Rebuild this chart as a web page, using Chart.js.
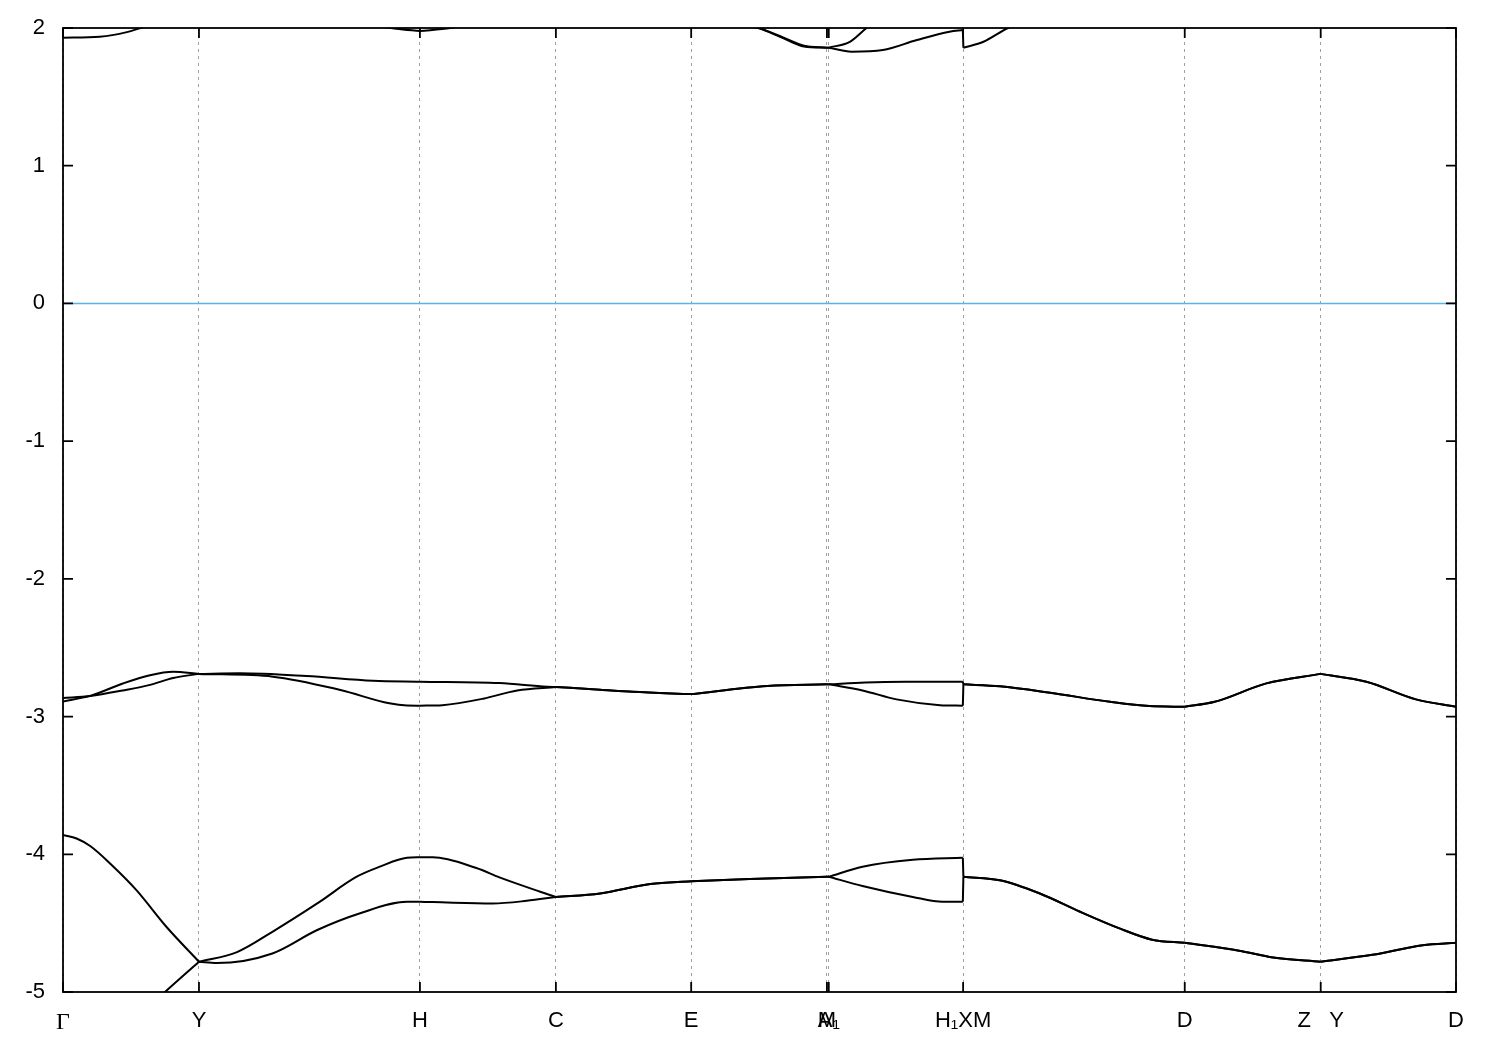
<!DOCTYPE html>
<html>
<head>
<meta charset="utf-8">
<script src="https://cdn.jsdelivr.net/npm/chart.js@4"></script>
<style>
  body { margin: 0; background: #fff; }
</style>
</head>
<body>
<canvas id="chart" width="1500" height="1050"></canvas>
<script>
// high symmetry points along the k-path
const kPos = [0, 1, 2.625, 3.625, 4.62, 5.618, 5.632, 6.62, 8.25, 9.25, 10.245];
const kLabels = ['Γ', 'Y', 'H', 'C', 'E', 'M', 'A₁', 'H₁XM', 'D', 'Z   Y', 'D'];
// where a band may have a kink (path corners, and the H1 | X jump)
const kinkX = [1, 2.625, 3.625, 4.62, 5.618, 5.632, 6.618, 6.622, 8.25, 9.25];

const yTicks = [-5, -4, -3, -2, -1, 0, 1, 2];

// bands, [k, E] pairs
const bandC1 = [[0, 1.93], [0.27, 1.937], [0.47, 1.97], [0.57, 2.0], [0.8, 2.07], [1.0, 2.1], [1.6, 2.09],
  [2.2, 2.03], [2.45, 1.995], [2.625, 1.978], [2.85, 2.0], [3.1, 2.05], [3.625, 2.12], [4.2, 2.15],
  [4.62, 2.1], [5.0, 2.02], [5.12, 1.998], [5.3, 1.93], [5.45, 1.872], [5.618, 1.857], [5.632, 1.857],
  [5.8, 1.828], [6.03, 1.84], [6.28, 1.913], [6.52, 1.973], [6.618, 1.985], [6.622, 1.857],
  [6.77, 1.9], [6.95, 2.0], [7.3, 2.12], [8.25, 2.3], [9.25, 2.4], [10.245, 2.35]];
const bandC2 = [[4.62, 2.3], [5.0, 2.04], [5.12, 2.0], [5.3, 1.925], [5.45, 1.866], [5.618, 1.857],
  [5.632, 1.857], [5.787, 1.9], [5.91, 2.0], [6.2, 2.2], [6.618, 2.4]];

const topMid = [[3.625, -2.785], [3.95, -2.805], [4.19, -2.82], [4.62, -2.837], [5.18, -2.778], [5.618, -2.766]];
const topTail = [[6.622, -2.766], [6.89, -2.78], [7.26, -2.827], [7.7, -2.893], [7.99, -2.924], [8.25, -2.929],
  [8.47, -2.893], [8.85, -2.759], [9.25, -2.69], [9.586, -2.747], [9.95, -2.875], [10.245, -2.929]];
const bandV1 = [[0, -2.865], [0.2, -2.85], [0.44, -2.81], [0.64, -2.77], [0.81, -2.72], [1.0, -2.69],
  [1.3, -2.686], [1.79, -2.706], [2.28, -2.74], [2.625, -2.747], [3.21, -2.757], [3.56, -2.783]]
  .concat(topMid, [[5.632, -2.766], [5.9, -2.752], [6.2, -2.747], [6.618, -2.747]], topTail);
const bandV2 = [[0, -2.89], [0.2, -2.85], [0.44, -2.76], [0.64, -2.70], [0.81, -2.675], [1.0, -2.69],
  [1.544, -2.71], [2.04, -2.807], [2.4, -2.904], [2.53, -2.92], [2.625, -2.921], [2.79, -2.917],
  [3.09, -2.87], [3.34, -2.81]]
  .concat(topMid, [[5.632, -2.766], [5.88, -2.81], [6.13, -2.875], [6.45, -2.917], [6.618, -2.921]], topTail);

const lowMid = [[3.625, -4.31], [3.95, -4.284], [4.32, -4.216], [4.62, -4.195], [5.05, -4.18], [5.618, -4.163]];
const lowTail = [[6.622, -4.163], [6.9, -4.19], [7.18, -4.283], [7.48, -4.417], [7.77, -4.538], [8.01, -4.62],
  [8.25, -4.643], [8.65, -4.70], [8.9, -4.75], [9.25, -4.78], [9.63, -4.73], [10.0, -4.66], [10.245, -4.643]];
const bandV3 = [[0, -3.86], [0.1, -3.885], [0.2, -3.94], [0.35, -4.07], [0.54, -4.26], [0.76, -4.526],
  [1.0, -4.78], [1.28, -4.71], [1.54, -4.563], [1.87, -4.357], [2.16, -4.163], [2.33, -4.09],
  [2.53, -4.025], [2.625, -4.022], [2.72, -4.022], [3.04, -4.10], [3.21, -4.168], [3.51, -4.272]]
  .concat(lowMid, [[5.632, -4.163], [5.88, -4.09], [6.25, -4.04], [6.618, -4.025]], lowTail);
const bandV4 = [[0, -5.62], [0.25, -5.44], [0.5, -5.23], [0.75, -5.0], [1.0, -4.78], [1.13, -4.79],
  [1.54, -4.72], [1.87, -4.55], [2.18, -4.43], [2.53, -4.345], [2.625, -4.345], [2.72, -4.347],
  [3.16, -4.357], [3.41, -4.338]]
  .concat(lowMid, [[5.632, -4.163], [5.88, -4.23], [6.25, -4.31], [6.47, -4.345], [6.618, -4.345]], lowTail);

const bands = [bandC1, bandC2, bandV1, bandV2, bandV3, bandV4];
const fermi = [[0, 0], [10.245, 0]];

document.addEventListener('DOMContentLoaded', function() {
    // cut each band at the kinks so the smoothing stays inside one path piece
    const datasets = [];
    bands.forEach(band => {
        let piece = [];
        band.forEach((p, i) => {
            piece.push({ x: p[0], y: p[1] });
            if (i > 0 && i < band.length - 1 && kinkX.includes(p[0])) {
                datasets.push(piece);
                piece = [{ x: p[0], y: p[1] }];
            }
        });
        datasets.push(piece);
    });

    const lines = datasets.map(d => ({
        data: d,
        borderColor: '#000',
        borderWidth: 2,
        pointRadius: 0,
        fill: false,
        cubicInterpolationMode: 'monotone',
        clip: 0
    }));
    lines.push({
        data: fermi.map(p => ({ x: p[0], y: p[1] })),
        borderColor: '#56b4e9',
        borderWidth: 1.6,
        pointRadius: 0,
        fill: false,
        clip: 0
    });

    // gnuplot style frame with inward tics on all four sides
    const frame = {
        id: 'frame',
        afterDraw(chart) {
            const c = chart.ctx;
            const a = chart.chartArea;
            const x = chart.scales.x, y = chart.scales.y;
            c.save();
            c.strokeStyle = '#000';
            c.lineWidth = 1.8;
            c.beginPath();
            x.ticks.forEach(t => {
                const px = x.getPixelForValue(t.value);
                c.moveTo(px, a.bottom); c.lineTo(px, a.bottom - 10);
                c.moveTo(px, a.top); c.lineTo(px, a.top + 10);
            });
            y.ticks.forEach(t => {
                const py = y.getPixelForValue(t.value);
                c.moveTo(a.left, py); c.lineTo(a.left + 10, py);
                c.moveTo(a.right, py); c.lineTo(a.right - 10, py);
            });
            c.stroke();
            c.strokeRect(a.left, a.top, a.right - a.left, a.bottom - a.top);
            c.restore();
        }
    };

    const ctx = document.getElementById('chart').getContext('2d');
    new Chart(ctx, {
        type: 'line',
        data: { datasets: lines },
        plugins: [frame],
        options: {
            responsive: false,
            devicePixelRatio: 1,
            animation: false,
            layout: { padding: { top: 28, right: 44, left: 0, bottom: 0 } },
            plugins: { legend: { display: false }, tooltip: { enabled: false } },
            scales: {
                x: {
                    type: 'linear',
                    min: 0,
                    max: 10.245,
                    afterBuildTicks: axis => { axis.ticks = kPos.map(v => ({ value: v })); },
                    afterFit: s => { s.height = 58; },
                    ticks: {
                        autoSkip: false,
                        maxRotation: 0,
                        padding: 16,
                        color: '#000',
                        font: c => ({ family: c.index === 0 ? 'Liberation Serif' : 'Liberation Sans', size: c.index === 0 ? 24 : 22 }),
                        callback: (v, i) => kLabels[i]
                    },
                    grid: { color: '#a0a0a0', lineWidth: 1, drawTicks: false },
                    border: { display: false, dash: [3, 4] }
                },
                y: {
                    min: -5,
                    max: 2,
                    afterBuildTicks: axis => { axis.ticks = yTicks.map(v => ({ value: v })); },
                    afterFit: s => { s.width = 63; },
                    ticks: {
                        padding: 10,
                        color: '#000',
                        font: { family: 'Liberation Sans', size: 22 }
                    },
                    grid: { display: false },
                    border: { display: false }
                }
            }
        }
    });
});
</script>
</body>
</html>
